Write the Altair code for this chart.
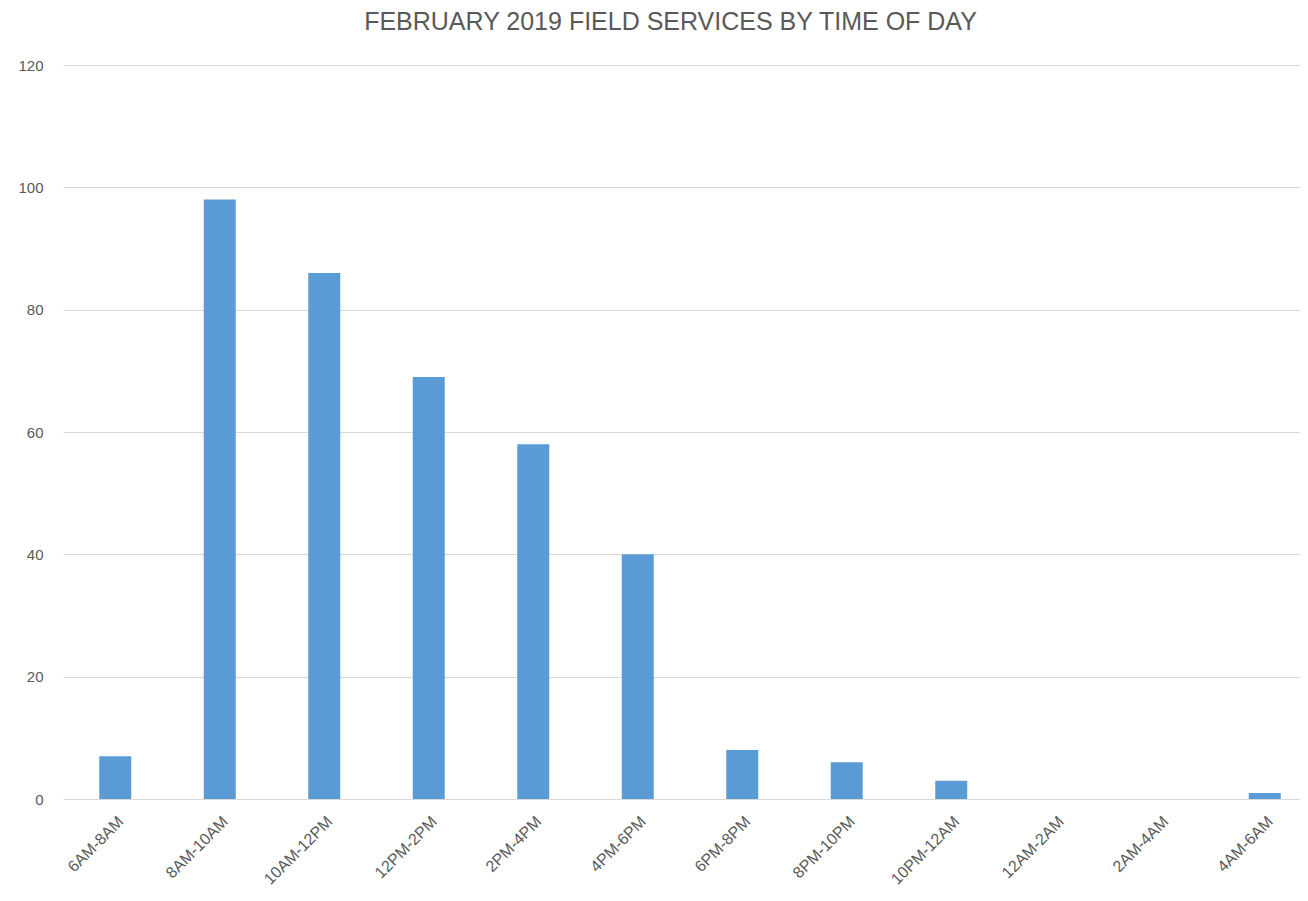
import altair as alt
import pandas as pd

categories = ["6AM-8AM", "8AM-10AM", "10AM-12PM", "12PM-2PM", "2PM-4PM", "4PM-6PM",
              "6PM-8PM", "8PM-10PM", "10PM-12AM", "12AM-2AM", "2AM-4AM", "4AM-6AM"]
values = [7, 98, 86, 69, 58, 40, 8, 6, 3, 0, 0, 1]
y_ticks = [0, 20, 40, 60, 80, 100, 120]

df = pd.DataFrame({"slot": categories, "count": values})

font = "Liberation Sans, Arial, sans-serif"

chart = alt.Chart(df).mark_bar(color="#5B9BD5", size=32).encode(
    x=alt.X("slot:N", sort=categories, title=None,
            scale=alt.Scale(paddingInner=0, paddingOuter=0, range=[0, 1254]),
            axis=alt.Axis(labelAngle=-45, labelFontSize=16, labelColor="#595959",
                          labelFont=font, ticks=False, domain=False,
                          labelPadding=14, labelAlign="right", labelBaseline="top")),
    y=alt.Y("count:Q", title=None,
            scale=alt.Scale(domain=[0, 120]),
            axis=alt.Axis(values=y_ticks, domain=False, ticks=False,
                          labelFontSize=15, labelColor="#595959", labelFont=font,
                          labelPadding=20, gridColor="#d9d9d9", gridWidth=1)),
).properties(
    width=1237, height=734,
    title=alt.TitleParams("FEBRUARY 2019 FIELD SERVICES BY TIME OF DAY", fontSize=25,
                          font=font, fontWeight="normal", color="#595959",
                          anchor="middle", offset=23, dx=-11),
    autosize=alt.AutoSizeParams(type="none"),
    padding={"left": 55, "top": 57, "right": 0, "bottom": 90},
).configure_view(stroke=None)

chart.save("out.html", embed_options={"renderer": "svg", "actions": False})
